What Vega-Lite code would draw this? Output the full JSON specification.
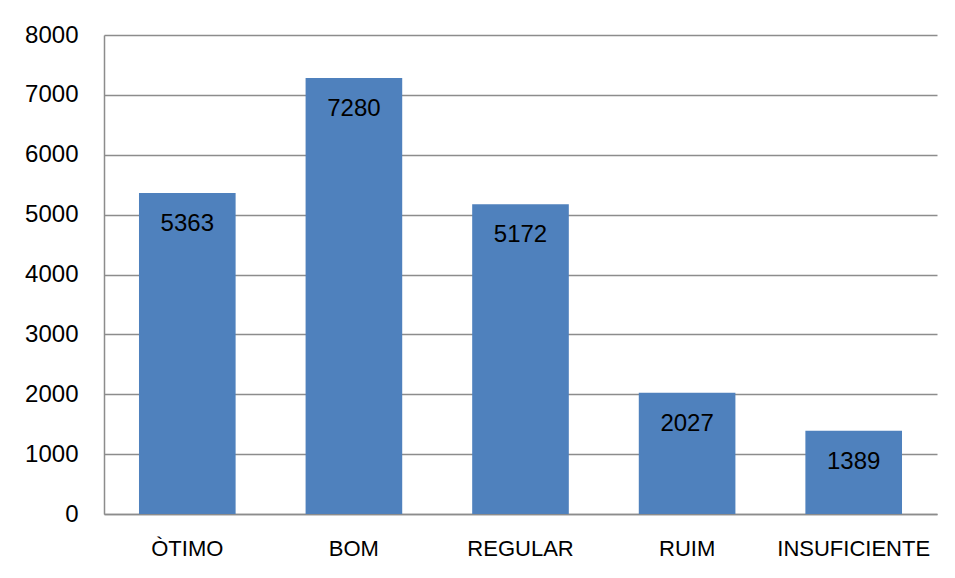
{
  "$schema": "https://vega.github.io/schema/vega-lite/v6.json",
  "width": 833,
  "height": 479,
  "autosize": "none",
  "padding": {"left": 104, "top": 35, "right": 18, "bottom": 64},
  "background": "white",
  "data": {
    "values": [
      {"categoria": "ÒTIMO", "valor": 5363},
      {"categoria": "BOM", "valor": 7280},
      {"categoria": "REGULAR", "valor": 5172},
      {"categoria": "RUIM", "valor": 2027},
      {"categoria": "INSUFICIENTE", "valor": 1389}
    ]
  },
  "encoding": {
    "x": {
      "field": "categoria",
      "type": "nominal",
      "sort": null,
      "scale": {"paddingInner": 0.42, "paddingOuter": 0.21},
      "axis": {
        "title": null,
        "labelAngle": 0,
        "ticks": false,
        "labelPadding": 24,
        "labelFont": "Liberation Sans",
        "labelFontSize": 22,
        "labelColor": "#000000",
        "domainColor": "#8c8c8c",
        "domainWidth": 1.5,
        "grid": false
      }
    },
    "y": {
      "field": "valor",
      "type": "quantitative",
      "scale": {"domain": [0, 8000], "nice": false},
      "axis": {
        "title": null,
        "format": "d",
        "values": [0, 1000, 2000, 3000, 4000, 5000, 6000, 7000, 8000],
        "ticks": false,
        "labelPadding": 26,
        "labelFont": "Liberation Sans",
        "labelFontSize": 24,
        "labelColor": "#000000",
        "domainColor": "#8c8c8c",
        "domainWidth": 1.5,
        "grid": true,
        "gridColor": "#8c8c8c",
        "gridWidth": 1.5
      }
    }
  },
  "layer": [
    {"mark": {"type": "bar", "color": "#4F81BD"}},
    {
      "mark": {
        "type": "text",
        "baseline": "middle",
        "dy": 31,
        "font": "Liberation Sans",
        "fontSize": 24,
        "color": "#000000"
      },
      "encoding": {"text": {"field": "valor", "type": "quantitative", "format": "d"}}
    }
  ],
  "config": {"view": {"stroke": null}}
}
